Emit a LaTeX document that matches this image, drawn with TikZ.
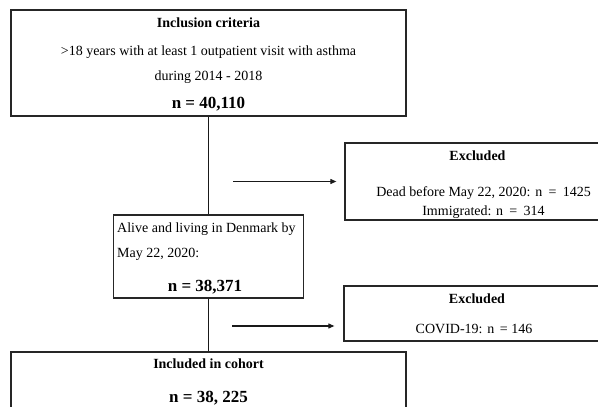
\documentclass[tikz,border=0pt]{standalone}
\usepackage{fontspec}
\setmainfont{Liberation Serif}
\usetikzlibrary{arrows.meta}
\begin{document}
\begin{tikzpicture}[x=1pt,y=-1pt,
  box/.style={draw=black!85, line width=1.3pt, inner sep=0pt, rectangle},
  conn/.style={draw=black!90, line width=1.1pt},
  arr/.style={conn, -{Triangle[length=6pt,width=5pt]}},
  txt/.style={anchor=base, inner sep=0pt, font=\fontsize{14}{16}\selectfont},
  head/.style={txt, font=\fontsize{14}{16}\selectfont\bfseries},
  num/.style={txt, font=\fontsize{17}{19}\selectfont\bfseries}]
\useasboundingbox (0,0) rectangle (598,407);
% boxes
\node[box, minimum width=395pt, minimum height=106pt] (top) at (208.5,63) {};
\node[box, minimum width=190pt, minimum height=83pt] (mid) at (208.5,256.5) {};
\node[box, minimum width=276pt, minimum height=77pt] (ex1) at (483,181.5) {};
\node[box, minimum width=264pt, minimum height=55pt] (ex2) at (476,313.5) {};
\node[box, minimum width=395pt, minimum height=88pt] (bot) at (208.5,396) {};
% texts top
\node[head] (t1) at (208.5,27) {Inclusion criteria};
\node[txt] (t2) at (208.5,55) {>18 years with at least 1 outpatient visit with asthma};
\node[txt] (t3) at (208.5,80) {during 2014 - 2018};
\node[num] (t4) at (208.5,108) {n = 40,110};
% texts middle
\node[txt, anchor=base west] (m1) at (117,232) {Alive and living in Denmark by};
\node[txt, anchor=base west] (m2) at (117,257) {May 22, 2020:};
\node[num] (m3) at (205,291) {n = 38,371};
% excluded 1
\node[head] (e1) at (477.5,160) {Excluded};
\node[txt] (e2) at (483.5,196) {Dead before May 22, 2020: n\hspace{0.45em}=\hspace{0.45em}1425};
\node[txt] (e3) at (483.5,215.5) {Immigrated: n\hspace{0.45em}=\hspace{0.45em}314};
% excluded 2
\node[head] (f1) at (477,303) {Excluded};
\node[txt] (f2) at (474,333) {COVID-19: n\hspace{0.4em}= 146};
% bottom
\node[head] (b1) at (208.5,368) {Included in cohort};
\node[num] (b2) at (208.5,402) {n = 38, 225};
% connectors
\draw[conn] (top.south) -- (mid.north);
\draw[conn] (mid.south) -- (bot.north);
\coordinate (s1) at (233,181.5);
\coordinate (s2) at (232,326);
\draw[arr, shorten >=8pt] (s1) -- (s1 -| ex1.west);
\draw[arr, shorten >=9pt] (s2) -- (s2 -| ex2.west);
\end{tikzpicture}
\end{document}
